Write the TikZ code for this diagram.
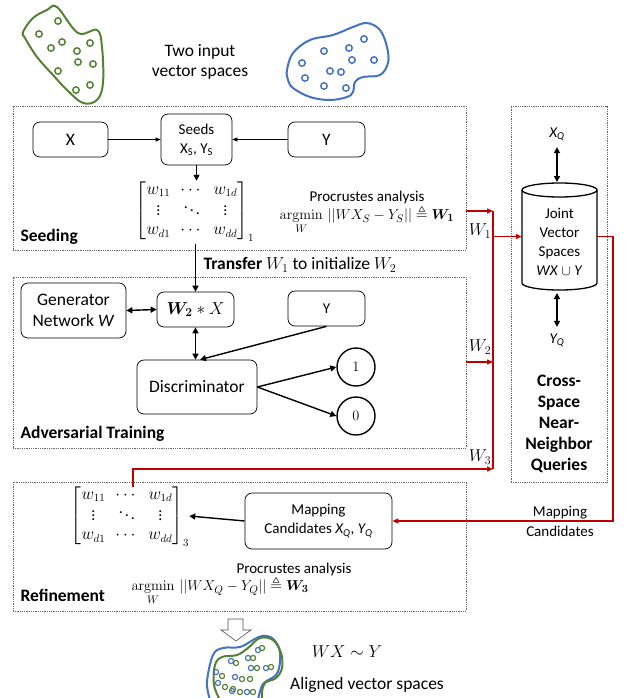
\documentclass[tikz,border=0pt]{standalone}
\usepackage{amsmath,amssymb,bm}
\usepackage[no-math]{fontspec}
\setmainfont{Carlito}
\usetikzlibrary{arrows.meta}
\definecolor{vgreen}{RGB}{84,130,53}
\definecolor{vblue}{RGB}{68,114,196}
\definecolor{vred}{RGB}{192,0,0}
\tikzset{
  panel/.style={draw=black!60, dash pattern=on 1pt off 0.8pt, line width=0.6pt, inner sep=0pt},
  rbox/.style={draw, rounded corners=7pt, line width=0.7pt, align=center, inner sep=2pt},
  thinarr/.style={line width=0.6pt, -{Triangle[length=5pt,width=4pt]}},
  thk/.style={line width=1.4pt, -{Triangle[length=6pt,width=6pt]}},
  thkb/.style={line width=1.4pt, {Triangle[length=6pt,width=6pt]}-{Triangle[length=6pt,width=6pt]}},
  redarr/.style={draw=vred, line width=1.3pt, -{Triangle[length=6pt,width=5pt]}},
  fs/.style={font=\fontsize{15}{18}\selectfont},
  fm/.style={font=\fontsize{16}{19}\selectfont},
  fl/.style={font=\fontsize{17.5}{20.5}\selectfont},
  fb/.style={font=\fontsize{17.5}{21}\selectfont\bfseries},
  dot/.style={line width=1.5pt},
  blob/.style={line width=2pt},
}
\begin{document}
\begin{tikzpicture}[x=1pt,y=-1pt]
\useasboundingbox (0,0) rectangle (628,698);

% ---------- top: input vector spaces ----------
\draw[blob, vgreen] plot[smooth cycle, tension=0.6] coordinates {(57,7) (78,33) (97,30) (102,47) (103,83) (97,100) (83,103) (67,90) (53,75) (37,57) (25,38) (23,32) (33,18) (47,10)};
\foreach \p in {(58,21),(39,34),(51,48),(62,42),(90,43),(77,51),(78,62),(93,64),(58,71),(90,85),(76,90)}
  \draw[dot, vgreen] \p circle[radius=3.2pt];
\draw[blob, vblue] plot[smooth cycle, tension=0.6] coordinates {(287,70) (293,53) (310,40) (333,35) (353,27) (367,23) (380,30) (387,47) (388,63) (380,75) (363,77) (355,82) (353,92) (347,97) (330,100) (310,97) (293,88) (288,80)};
\foreach \p in {(364,39),(349,48),(324,51),(352,60),(374,60),(302,63),(330,71),(341,72),(305,78),(324,86),(346,88)}
  \draw[dot, vblue] \p circle[radius=3.2pt];
\node[fl, align=center] (twoin) at (200,62) {Two input\\vector spaces};

% ---------- panels ----------
\node[panel, minimum width=453pt, minimum height=144pt] (seedp) at (239.5,178) {};
\node[panel, minimum width=453pt, minimum height=171pt] (advp) at (239.5,362.5) {};
\node[panel, minimum width=453pt, minimum height=129pt] (refp) at (239.5,546.5) {};
\node[panel, minimum width=96pt, minimum height=376pt] (qp) at (559,294) {};

% ---------- Seeding ----------
\node[rbox, fl, minimum width=75pt, minimum height=35pt] (x) at (70.5,139.5) {X};
\node[rbox, fs, minimum width=71pt, minimum height=51pt] (seeds) at (196.5,139.5) {Seeds\\[1pt]X\textsubscript{S}, Y\textsubscript{S}};
\node[rbox, fl, minimum width=77pt, minimum height=35pt] (y) at (326.5,139.5) {Y};
\draw[thinarr] (x) -- (seeds);
\draw[thinarr] (y) -- (seeds);
\node[fm, inner sep=0pt] (mat1) at (195,211) {$\begin{bmatrix} w_{11} & \cdots & w_{1d}\\ \vdots & \ddots & \vdots\\ w_{d1} & \cdots & w_{dd}\end{bmatrix}_{1}$};
\draw[thk] (seeds.south) -- (seeds.south |- mat1.north);
\node[fs] (proc1) at (367,197) {Procrustes analysis};
\node[fs] (arg1) at (367,220) {$\displaystyle\operatorname*{argmin}_{W}\,||WX_S-Y_S||\triangleq\boldsymbol{W_1}$};
\node[fb, anchor=west] (seedl) at (17,237) {Seeding};

% ---------- transfer ----------
\node[fl, anchor=west] (transfer) at (200,265) {\textbf{Transfer} $W_1$ to initialize $W_2$};

% ---------- Adversarial ----------
\node[rbox, fl, minimum width=105pt, minimum height=55pt] (gen) at (73.5,310.5) {Generator\\Network \textit{W}};
\node[rbox, fl, minimum width=77pt, minimum height=35pt] (w2x) at (195.5,309.5) {$\boldsymbol{W_2} * X$};
\node[rbox, fs, minimum width=77pt, minimum height=35pt] (yadv) at (326.5,308.5) {Y};
\node[rbox, fl, minimum width=120pt, minimum height=54pt] (disc) at (197,387) {Discriminator};
\node[draw, circle, line width=1.4pt, minimum size=38pt, inner sep=0pt, fs] (c1) at (356,367) {$1$};
\node[draw, circle, line width=1.4pt, minimum size=38pt, inner sep=0pt, fs] (c0) at (356,416) {$0$};
\draw[thk] (w2x.north |- mat1.south) ++(0,3) -- (w2x.north);
\draw[thkb] (gen.east) -- (w2x.west);
\draw[thkb] (w2x.south) -- (w2x.south |- disc.north);
\draw[thk] (yadv.south) -- ([xshift=3pt]disc.north);
\draw[thk] (disc.east) -- (c1.west);
\draw[thk] (disc.east) -- (c0.west);
\node[fb, anchor=west] (advl) at (17,434) {Adversarial Training};

% ---------- Query panel ----------
\node[minimum width=75pt, minimum height=107pt, inner sep=0pt] (db) at (559.5,236.5) {};
\draw[line width=1.3pt] (522,190) -- (522,283) arc[start angle=180, end angle=360, x radius=37.5pt, y radius=7pt] -- (597,190);
\draw[line width=1.3pt] (559.5,190) ellipse[x radius=37.5pt, y radius=7pt];
\node[fs, align=center, inner sep=0pt] (dbt) at (559.5,242) {Joint\\[1pt]Vector\\[1pt]Spaces\\[1pt]\textit{WX} $\cup$ \textit{Y}};
\node[fs] (xq) at (557,134) {\textit{X\textsubscript{Q}}};
\node[fs] (yq) at (557,340) {\textit{Y\textsubscript{Q}}};
\draw[thkb] ([yshift=-3pt]xq.south) -- (557,182);
\draw[thkb] (557,293) -- ([yshift=3pt]yq.north);
\node[fb, align=center] (cross) at (559,424) {Cross-\\Space\\Near-\\Neighbor\\Queries};

% ---------- Red connections ----------
\coordinate (b1) at (493,211);
\coordinate (bdb) at (493,236.5);
\coordinate (b2) at (493,362);
\coordinate (b3) at (493,469);
\draw[vred, line width=1.3pt] (b1) -- (b3);
\draw[redarr] (seedp.east |- b1) -- (b1);
\draw[redarr] (bdb) -- (db.west);
\draw[redarr] (advp.east |- b2) -- (b2);
\node[fl] (w1l) at (480,231) {$W_1$};
\node[fl] (w2l) at (480,347) {$W_2$};
\node[fl] (w3l) at (480,457) {$W_3$};

% ---------- Refinement ----------
\node[fm, inner sep=0pt] (mat3) at (130,516) {$\begin{bmatrix} w_{11} & \cdots & w_{1d}\\ \vdots & \ddots & \vdots\\ w_{d1} & \cdots & w_{dd}\end{bmatrix}_{3}$};
\node[rbox, fs, minimum width=147pt, minimum height=56pt] (mapc) at (318.5,521) {Mapping\\[1pt]Candidates \textit{X\textsubscript{Q}}, \textit{Y\textsubscript{Q}}};
\draw[thk] (mapc.west) -- (mat3.east);
\node[fs] (proc3) at (294,569) {Procrustes analysis};
\node[fs, anchor=west] (arg3) at (128,591) {$\displaystyle\operatorname*{argmin}_{W}\,||WX_Q-Y_Q||\triangleq\boldsymbol{W_3}$};
\node[fb, anchor=west] (refl) at (17,595) {Refinement};
\coordinate (w3s) at (133,487);
\draw[redarr] (w3s) |- (b3);
\coordinate (rc) at (613,236.5);
\draw[redarr] (db.east) -- (rc) |- (mapc.east);
\node[fs, align=center] (mapl) at (560,521) {Mapping\\[2pt]Candidates};

% ---------- bottom: aligned ----------
\draw[line width=0.6pt, draw=black!70] (228,619) -- (243,619) -- (243,630) -- (251,630) -- (236,641) -- (221,630) -- (228,630) -- cycle;
\draw[blob, vblue] plot[smooth, tension=0.6] coordinates {(210,700) (207,682) (213,655) (223,648) (240,647) (253,640) (262,636) (272,638) (279,648) (280,662) (276,675) (263,684) (258,700)};
\draw[blob, vgreen] plot[smooth, tension=0.6] coordinates {(220,700) (214,685) (215,665) (222,657) (237,655) (248,648) (260,638) (273,640) (281,653) (282,668) (276,678) (265,683) (262,692) (262,700)};
\foreach \p in {(231,661),(248,658),(258,650),(251,668),(266,668),(216,672),(235,677),(218,683),(232,691),(247,692)}
  \draw[line width=1.2pt, vblue] \p circle[radius=2.6pt];
\foreach \p in {(236,663),(253,658),(262,648),(257,668),(271,667),(222,676),(242,679),(250,679),(225,687),(233,689),(240,692),(253,692)}
  \draw[line width=1.2pt, vgreen] \p circle[radius=2.6pt];
\node[fl] (wxy) at (347,652) {$WX \sim Y$};
\node[fl] (alig) at (367,685) {Aligned vector spaces};
\end{tikzpicture}
\end{document}
